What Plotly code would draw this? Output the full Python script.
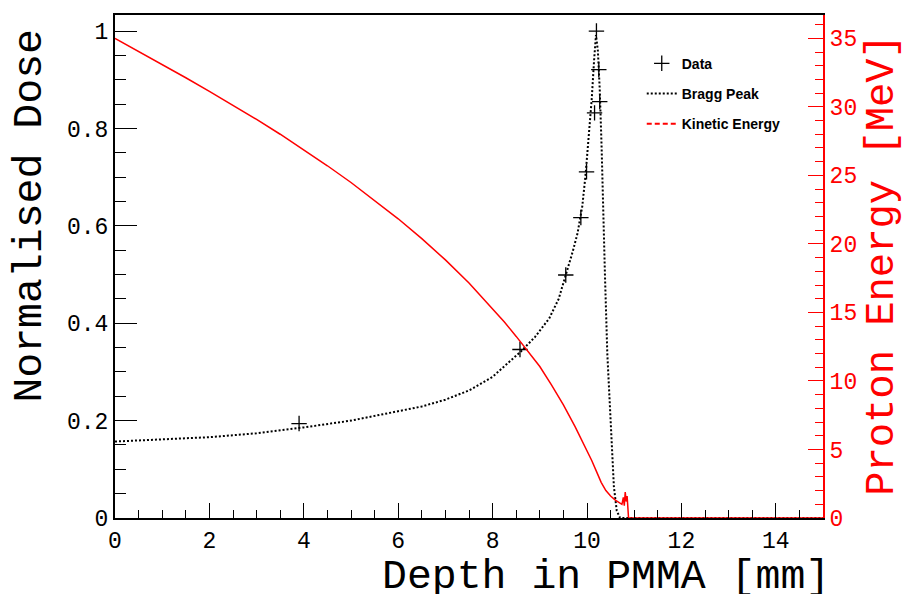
import plotly.graph_objects as go

# Data points (measured dose)
data_depth = [3.90, 8.58, 9.55, 9.87, 9.99, 10.16, 10.20, 10.25, 10.27]
data_dose = [0.194, 0.346, 0.499, 0.617, 0.711, 0.832, 1.000, 0.921, 0.855]

# Simulated Bragg peak (normalised dose)
bragg_depth = [0.0, 1.0, 2.0, 3.0, 4.0, 5.0, 6.0, 6.5, 7.0, 7.5, 8.0, 8.3, 8.6, 8.9,
               9.2, 9.4, 9.55, 9.7, 9.8, 9.9, 9.97, 10.05, 10.1, 10.15, 10.19, 10.23,
               10.27, 10.31, 10.34, 10.38, 10.43, 10.5, 10.57, 10.63, 10.7, 11.0, 12.0,
               13.0, 14.0, 15.0]
bragg_dose = [0.157, 0.161, 0.166, 0.174, 0.186, 0.200, 0.220, 0.229, 0.243, 0.262, 0.290,
              0.315, 0.342, 0.372, 0.410, 0.450, 0.497, 0.548, 0.585, 0.640, 0.705, 0.790,
              0.860, 0.940, 0.992, 0.960, 0.880, 0.760, 0.620, 0.500, 0.338, 0.201, 0.064,
              0.015, 0.0, 0.0, 0.0, 0.0, 0.0, 0.0]

# Proton kinetic energy [MeV]
ke_depth = [0.0, 0.5, 1.0, 1.5, 2.0, 2.5, 3.0, 3.5, 4.0, 4.5, 5.0, 5.5, 6.0, 6.5, 7.0,
            7.5, 8.0, 8.25, 8.5, 8.75, 9.0, 9.25, 9.5, 9.75, 10.0, 10.1, 10.2, 10.3, 10.4,
            10.5, 10.6, 10.68, 10.74, 10.77, 10.79, 10.81, 10.83, 10.85, 10.86, 10.88, 15.0]
ke_energy = [35.0, 34.05, 33.1, 32.12, 31.13, 30.12, 29.08, 28.0, 26.88, 25.7, 24.48, 23.18,
             21.83, 20.38, 18.83, 17.15, 15.3, 14.3, 13.25, 12.15, 11.05, 9.7, 8.25, 6.65,
             4.95, 4.2, 3.4, 2.6, 2.0, 1.6, 1.3, 1.12, 1.0, 1.5, 0.9, 1.9, 1.2, 1.6, 0.5,
             0.0, 0.0]

mono = "Liberation Mono, Courier New, monospace"

fig = go.Figure()

fig.add_trace(go.Scatter(x=ke_depth, y=ke_energy, mode="lines", yaxis="y2",
                         line=dict(color="red", width=1.5), showlegend=False))
fig.add_trace(go.Scatter(x=bragg_depth, y=bragg_dose, mode="lines",
                         line=dict(color="black", width=2, dash="2px,2px"),
                         showlegend=False))
fig.add_trace(go.Scatter(x=data_depth, y=data_dose, mode="markers", name="Data",
                         marker=dict(symbol="cross-thin", size=11, color="black",
                                     line=dict(color="black", width=1.3)),
                         legendgroup="a"))
# legend-only entries
fig.add_trace(go.Scatter(x=[None], y=[None], mode="lines", name="Bragg Peak",
                         line=dict(color="black", width=2, dash="2px,2px"), legendgroup="b"))
fig.add_trace(go.Scatter(x=[None], y=[None], mode="lines", name="Kinetic Energy",
                         line=dict(color="red", width=2, dash="5px,3px"), legendgroup="c"))

fig.update_layout(
    width=906, height=594,
    margin=dict(l=115, r=83, t=15, b=76),
    paper_bgcolor="white", plot_bgcolor="white",
    showlegend=True,
    legend=dict(x=0.744, y=0.935, xanchor="left", yanchor="top",
                font=dict(family="Liberation Sans, Arial", size=14, color="black", weight="bold"),
                bgcolor="rgba(0,0,0,0)", tracegroupgap=9),
    xaxis=dict(range=[0, 15], showgrid=False, zeroline=False,
               showline=True, linecolor="black", linewidth=2, mirror=True,
               ticks="inside", ticklen=15, tickwidth=1, tickcolor="black", dtick=2, tick0=0,
               minor=dict(dtick=0.5, ticks="inside", ticklen=8, tickcolor="black"),
               tickfont=dict(family=mono, size=23, color="black")),
    yaxis=dict(range=[0, 1.033], showgrid=False, zeroline=False,
               showline=True, linecolor="black", linewidth=2,
               ticks="inside", ticklen=22, tickwidth=1, tickcolor="black", dtick=0.2, tick0=0,
               minor=dict(dtick=0.05, ticks="inside", ticklen=11, tickcolor="black"),
               tickfont=dict(family=mono, size=23, color="black")),
    yaxis2=dict(range=[0, 36.7], overlaying="y", side="right", showgrid=False, zeroline=False,
                showline=True, linecolor="red", linewidth=2,
                ticks="inside", ticklen=15, tickwidth=1, tickcolor="red", dtick=5, tick0=0,
                minor=dict(dtick=1, ticks="inside", ticklen=8, tickcolor="red"),
                tickfont=dict(family=mono, size=23, color="red")),
    annotations=[
        dict(text="Depth in PMMA [mm]", xref="paper", yref="paper", x=1.013, y=-0.116,
             xanchor="right", yanchor="middle", showarrow=False,
             font=dict(family=mono, size=41.5, color="black")),
        dict(text="Normalised Dose", xref="paper", yref="paper", x=-0.12, y=0.977,
             xanchor="center", yanchor="top", textangle=-90, showarrow=False,
             font=dict(family=mono, size=41.5, color="black")),
        dict(text="Proton Energy [MeV]", xref="paper", yref="paper", x=1.083, y=0.966,
             xanchor="center", yanchor="top", textangle=-90, showarrow=False,
             font=dict(family=mono, size=40.5, color="red")),
    ],
)

fig.write_html("out.html", config={"displayModeBar": False},
               post_script="document.body.style.margin='0px';document.body.style.padding='0px';")
